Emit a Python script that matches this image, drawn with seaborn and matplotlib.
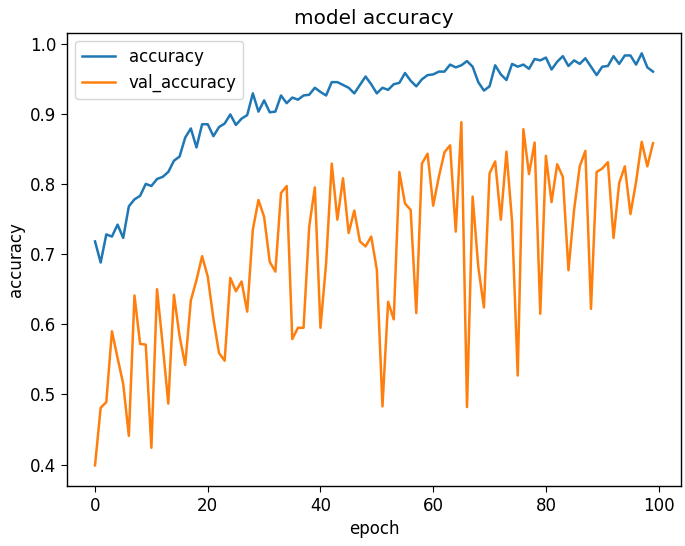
import numpy as np
import pandas as pd
import matplotlib
matplotlib.use('Agg')
import matplotlib.pyplot as plt
import seaborn as sns

# values
accuracy = [
    0.718, 0.688, 0.728, 0.725, 0.742, 0.723, 0.768, 0.778, 0.783, 0.800,
    0.797, 0.807, 0.810, 0.817, 0.833, 0.839, 0.866, 0.879, 0.852, 0.885,
    0.885, 0.868, 0.881, 0.886, 0.899, 0.884, 0.893, 0.898, 0.929, 0.903,
    0.919, 0.902, 0.903, 0.926, 0.915, 0.923, 0.920, 0.926, 0.927, 0.937,
    0.931, 0.926, 0.945, 0.945, 0.941, 0.937, 0.929, 0.941, 0.953, 0.942,
    0.929, 0.937, 0.934, 0.942, 0.944, 0.958, 0.947, 0.939, 0.949, 0.955,
    0.956, 0.960, 0.960, 0.970, 0.966, 0.969, 0.975, 0.967, 0.945, 0.933,
    0.939, 0.969, 0.956, 0.948, 0.971, 0.967, 0.970, 0.964, 0.978, 0.976,
    0.980, 0.963, 0.974, 0.982, 0.968, 0.976, 0.971, 0.979, 0.967, 0.955,
    0.967, 0.968, 0.982, 0.971, 0.983, 0.983, 0.970, 0.986, 0.966, 0.960,
]
val_accuracy = [
    0.399, 0.481, 0.489, 0.590, 0.552, 0.515, 0.441, 0.641, 0.572, 0.571,
    0.424, 0.650, 0.571, 0.487, 0.642, 0.583, 0.542, 0.634, 0.663, 0.697,
    0.668, 0.608, 0.559, 0.548, 0.666, 0.647, 0.661, 0.618, 0.735, 0.777,
    0.753, 0.689, 0.675, 0.787, 0.797, 0.579, 0.595, 0.595, 0.739, 0.795,
    0.595, 0.687, 0.829, 0.749, 0.808, 0.730, 0.762, 0.718, 0.711, 0.725,
    0.678, 0.483, 0.632, 0.607, 0.817, 0.772, 0.763, 0.616, 0.829, 0.843,
    0.769, 0.810, 0.845, 0.855, 0.732, 0.888, 0.482, 0.782, 0.682, 0.624,
    0.815, 0.832, 0.749, 0.846, 0.746, 0.527, 0.878, 0.814, 0.859, 0.615,
    0.840, 0.774, 0.828, 0.810, 0.677, 0.763, 0.825, 0.847, 0.622, 0.817,
    0.822, 0.831, 0.723, 0.801, 0.825, 0.757, 0.803, 0.860, 0.825, 0.858,
]
epochs = np.arange(len(accuracy))

df = pd.DataFrame({
    'epoch': np.concatenate([epochs, epochs]),
    'value': accuracy + val_accuracy,
    'series': ['accuracy'] * len(accuracy) + ['val_accuracy'] * len(val_accuracy),
})

# reference looks like default matplotlib scaled up ~1.2x
plt.rcParams['font.size'] = 12
plt.rcParams['axes.titlesize'] = 14.4
plt.rcParams['axes.linewidth'] = 1.0
plt.rcParams['xtick.major.size'] = 4.2
plt.rcParams['ytick.major.size'] = 4.2

fig, ax = plt.subplots(figsize=(6.85, 5.46), dpi=100)
fig.subplots_adjust(left=0.098, right=0.994, top=0.940, bottom=0.110)

sns.lineplot(data=df, x='epoch', y='value', hue='series',
             palette=['#1f77b4', '#ff7f0e'], linewidth=1.8, ax=ax)

ax.set_title('model accuracy')
ax.set_xlabel('epoch')
ax.set_ylabel('accuracy')
ax.legend(loc='upper left', title=None)

plt.savefig('out.png', dpi=100)
